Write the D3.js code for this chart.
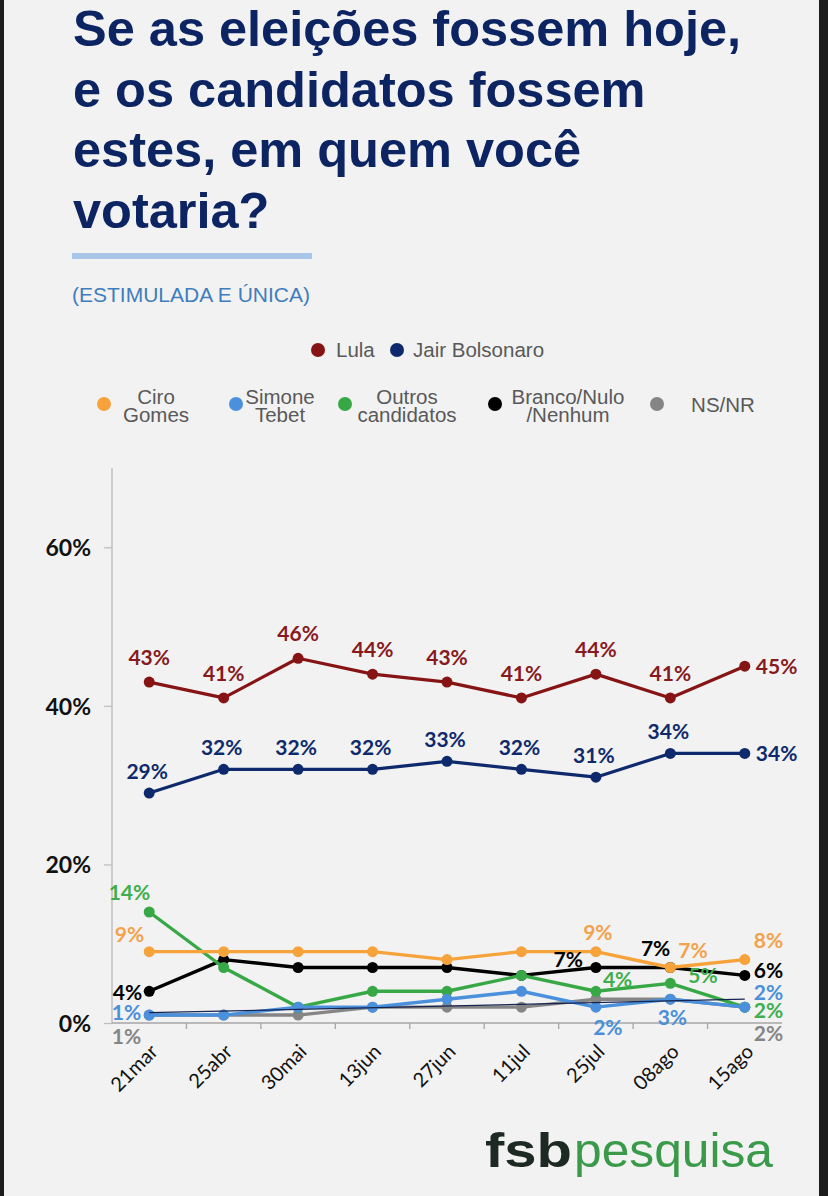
<!DOCTYPE html>
<html>
<head>
<meta charset="utf-8">
<script src="https://cdn.jsdelivr.net/npm/d3@7"></script>
<style>
  body { margin: 0; background: #f2f2f2; }
  svg { display: block; }
</style>
</head>
<body>
<div id="chart"></div>
<script>
// Dados da pesquisa FSB (estimulada e única)
const dates = ['21mar', '25abr', '30mai', '13jun', '27jun', '11jul', '25jul', '08ago', '15ago'];
const lula = [43, 41, 46, 44, 43, 41, 44, 41, 45];
const bolsonaro = [29, 32, 32, 32, 33, 32, 31, 34, 34];
const ciro = [9, 9, 9, 9, 8, 9, 9, 7, 8];
const simone = [1, 1, 2, 2, 3, 4, 2, 3, 2];
const outros = [14, 7, 2, 4, 4, 6, 4, 5, 2];
const branco = [4, 8, 7, 7, 7, 6, 7, 7, 6];
const nsnr = [1, 1, 1, 2, 2, 2, 3, 3, 2];
const trendEnds = [1.3, 3.0];
const yTicks = [0, 20, 40, 60];
const titleLines = ['Se as eleições fossem hoje,', 'e os candidatos fossem', 'estes, em quem você', 'votaria?'];

const W = 828, H = 1196;
const svg = d3.select('#chart').append('svg').attr('width', W).attr('height', H);

svg.append('rect').attr('width', W).attr('height', H).attr('fill', '#f2f2f2');
// bordas escuras da foto
svg.append('rect').attr('x', 0).attr('width', 4).attr('height', H).attr('fill', '#1c1c1c');
svg.append('rect').attr('x', 819).attr('width', 9).attr('height', H).attr('fill', '#1c1c1c');

// Titulo
svg.append('g').selectAll('text')
  .data(titleLines)
  .enter().append('text')
  .attr('x', 73)
  .attr('y', (d, i) => 46 + i * 60.5)
  .attr('font-family', 'Liberation Sans, Arial, sans-serif')
  .attr('font-weight', 'bold')
  .attr('font-size', 50.5)
  .attr('fill', '#0d2463')
  .text(d => d);

svg.append('rect').attr('x', 72).attr('y', 253).attr('width', 240).attr('height', 6).attr('fill', '#a9c5e8');

svg.append('text')
  .attr('x', 72).attr('y', 302)
  .attr('font-family', 'Liberation Sans, Arial, sans-serif')
  .attr('font-size', 21)
  .attr('fill', '#3f7dbd')
  .text('(ESTIMULADA E ÚNICA)');

// Series
const series = [
  { key: 'branco', name: ['Branco/Nulo', '/Nenhum'], values: branco, color: '#000000', label: '#000000' },
  { key: 'nsnr', name: ['NS/NR'], values: nsnr, color: '#858585', label: '#858585' },
  { key: 'outros', name: ['Outros', 'candidatos'], values: outros, color: '#38a846', label: '#3fae4c' },
  { key: 'ciro', name: ['Ciro', 'Gomes'], values: ciro, color: '#f6a33c', label: '#f2a24c' },
  { key: 'simone', name: ['Simone', 'Tebet'], values: simone, color: '#4a90dc', label: '#4a8fd8' },
  { key: 'lula', name: ['Lula'], values: lula, color: '#861414', label: '#861a1e' },
  { key: 'bolsonaro', name: ['Jair Bolsonaro'], values: bolsonaro, color: '#0e2a6c', label: '#0e2a6c' }
];
const byKey = {};
series.forEach(s => byKey[s.key] = s);

// Escalas
const x = d3.scaleBand().domain(dates).range([112, 782]);
const y = d3.scaleLinear().domain([0, 70]).range([1023, 468]);
const cx = d => x(d) + x.bandwidth() / 2;

// Eixo Y
const yAxis = svg.append('g')
  .attr('transform', 'translate(112,0)')
  .call(d3.axisLeft(y).tickValues(yTicks).tickFormat(d => d + '%').tickSize(8).tickPadding(13));
yAxis.select('.domain').remove();
yAxis.selectAll('.tick line').attr('stroke', '#bfbfbf').attr('stroke-width', 1.3);
yAxis.selectAll('.tick text')
  .attr('font-family', 'Lato, sans-serif')
  .attr('font-weight', 'bold')
  .attr('font-size', 23)
  .attr('fill', '#111')
  .attr('dy', '0.36em');
svg.append('line')
  .attr('x1', 112).attr('x2', 112).attr('y1', y(70)).attr('y2', y(0))
  .attr('stroke', '#bfbfbf').attr('stroke-width', 1.5);

// Eixo X
svg.append('line')
  .attr('x1', 112).attr('x2', 782).attr('y1', y(0)).attr('y2', y(0))
  .attr('stroke', '#a6a6a6').attr('stroke-width', 1.5);
svg.append('g').selectAll('line')
  .data(dates.slice(0, -1))
  .enter().append('line')
  .attr('x1', d => x(d) + x.bandwidth()).attr('x2', d => x(d) + x.bandwidth())
  .attr('y1', y(0)).attr('y2', y(0) + 6)
  .attr('stroke', '#a6a6a6').attr('stroke-width', 1.3);
svg.append('g').selectAll('text')
  .data(dates)
  .enter().append('text')
  .attr('transform', d => `translate(${cx(d)},${y(0) + 20}) rotate(-45)`)
  .attr('text-anchor', 'end')
  .attr('dy', '0.7em')
  .attr('font-family', 'Lato, sans-serif')
  .attr('font-size', 20)
  .attr('fill', '#111')
  .text(d => d);

const line = d3.line().x((v, i) => cx(dates[i])).y(v => y(v));

function drawSeries(s, width, r) {
  const g = svg.append('g').attr('class', 'serie-' + s.key);
  g.append('path')
    .datum(s.values)
    .attr('d', line)
    .attr('fill', 'none')
    .attr('stroke', s.color)
    .attr('stroke-width', width)
    .attr('stroke-linejoin', 'round');
  g.selectAll('circle')
    .data(s.values)
    .enter().append('circle')
    .attr('cx', (v, i) => cx(dates[i]))
    .attr('cy', v => y(v))
    .attr('r', r)
    .attr('fill', s.color);
}

['branco', 'nsnr', 'outros', 'ciro', 'simone'].forEach(k => drawSeries(byKey[k], 3.4, 5.5));

// linha fina de tendencia
svg.append('line')
  .attr('x1', cx(dates[0])).attr('x2', cx(dates[dates.length - 1]))
  .attr('y1', y(trendEnds[0])).attr('y2', y(trendEnds[1]))
  .attr('stroke', '#16244f').attr('stroke-width', 1.3);

['lula', 'bolsonaro'].forEach(k => drawSeries(byKey[k], 3.2, 5.5));

// Rotulos de dados (posicao relativa ao ponto)
const labelSpots = [];
dates.forEach((d, i) => {
  if (i < 8) {
    labelSpots.push({ k: 'lula', i, dx: 0, dy: -17, a: 'middle' });
    labelSpots.push({ k: 'bolsonaro', i, dx: -2, dy: -14, a: 'middle' });
  }
});
labelSpots.push(
  { k: 'lula', i: 8, dx: 11, dy: 8, a: 'start' },
  { k: 'bolsonaro', i: 8, dx: 11, dy: 8, a: 'start' },
  { k: 'outros', i: 0, dx: 1, dy: -12, a: 'end' },
  { k: 'ciro', i: 0, dx: -5, dy: -10, a: 'end' },
  { k: 'branco', i: 0, dx: -7, dy: 9, a: 'end' },
  { k: 'simone', i: 0, dx: -8, dy: 5, a: 'end' },
  { k: 'nsnr', i: 0, dx: -8, dy: 29, a: 'end' },
  { k: 'ciro', i: 6, dx: 2, dy: -12, a: 'middle' },
  { k: 'branco', i: 6, dx: -13, dy: -1, a: 'end' },
  { k: 'outros', i: 6, dx: 7, dy: -4, a: 'start' },
  { k: 'simone', i: 6, dx: 12, dy: 28, a: 'middle' },
  { k: 'branco', i: 7, dx: 0, dy: -12, a: 'end' },
  { k: 'ciro', i: 7, dx: 8, dy: -10, a: 'start' },
  { k: 'outros', i: 7, dx: 18, dy: 0, a: 'start' },
  { k: 'simone', i: 7, dx: 2, dy: 26, a: 'middle' },
  { k: 'ciro', i: 8, dx: 9, dy: -12, a: 'start' },
  { k: 'branco', i: 8, dx: 9, dy: 3, a: 'start' },
  { k: 'simone', i: 8, dx: 9, dy: -7, a: 'start' },
  { k: 'outros', i: 8, dx: 9, dy: 11, a: 'start' },
  { k: 'nsnr', i: 8, dx: 9, dy: 34, a: 'start' }
);

svg.append('g').selectAll('text')
  .data(labelSpots)
  .enter().append('text')
  .attr('x', d => cx(dates[d.i]) + d.dx)
  .attr('y', d => y(byKey[d.k].values[d.i]) + d.dy)
  .attr('text-anchor', d => d.a)
  .attr('font-family', 'Lato, sans-serif')
  .attr('font-weight', 'bold')
  .attr('font-size', 21)
  .attr('fill', d => byKey[d.k].label)
  .text(d => byKey[d.k].values[d.i] + '%');

// Legenda
const legendFont = 'Liberation Sans, Arial, sans-serif';
const legend1 = [
  { k: 'lula', dot: 318, tx: 336 },
  { k: 'bolsonaro', dot: 397, tx: 413 }
];
const lg1 = svg.append('g');
lg1.selectAll('circle').data(legend1).enter().append('circle')
  .attr('cx', d => d.dot).attr('cy', 350).attr('r', 7)
  .attr('fill', d => byKey[d.k].color);
lg1.selectAll('text').data(legend1).enter().append('text')
  .attr('x', d => d.tx).attr('y', 357)
  .attr('font-family', legendFont).attr('font-size', 20.5).attr('fill', '#595959')
  .text(d => byKey[d.k].name[0]);

const legend2 = [
  { k: 'ciro', dot: 104, tx: 156 },
  { k: 'simone', dot: 236, tx: 280 },
  { k: 'outros', dot: 345, tx: 407 },
  { k: 'branco', dot: 495, tx: 568 },
  { k: 'nsnr', dot: 657, tx: 723 }
];
const lg2 = svg.append('g');
lg2.selectAll('circle').data(legend2).enter().append('circle')
  .attr('cx', d => d.dot).attr('cy', 404).attr('r', 7)
  .attr('fill', d => byKey[d.k].color);
const lt = lg2.selectAll('text').data(legend2).enter().append('text')
  .attr('x', d => d.tx)
  .attr('y', d => byKey[d.k].name.length === 1 ? 412 : 404)
  .attr('text-anchor', 'middle')
  .attr('font-family', legendFont).attr('font-size', 20.5).attr('fill', '#595959');
lt.selectAll('tspan').data(d => byKey[d.k].name.map(n => ({ n, x: d.tx })))
  .enter().append('tspan')
  .attr('x', t => t.x)
  .attr('dy', (t, i) => i === 0 ? 0 : 18)
  .text(t => t.n);

// Logo
svg.append('text')
  .attr('x', 485).attr('y', 1167)
  .attr('font-family', 'Liberation Sans, Arial, sans-serif')
  .attr('font-size', 49).attr('font-weight', 'bold').attr('fill', '#1d2a23')
  .attr('textLength', 87).attr('lengthAdjust', 'spacingAndGlyphs')
  .text('fsb');
svg.append('text')
  .attr('x', 574).attr('y', 1167)
  .attr('font-family', 'Liberation Sans, Arial, sans-serif')
  .attr('font-size', 49).attr('fill', '#3a9a4a')
  .attr('textLength', 199).attr('lengthAdjust', 'spacingAndGlyphs')
  .text('pesquisa');
</script>
</body>
</html>
